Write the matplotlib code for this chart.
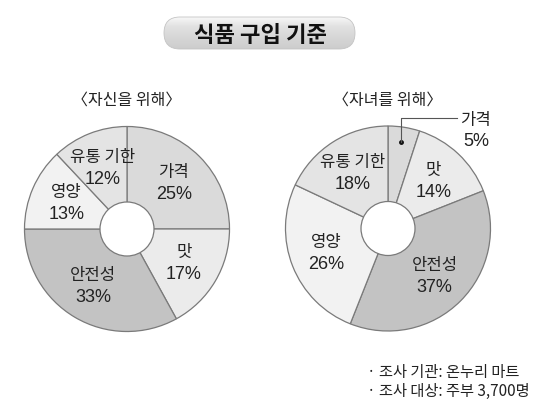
# 식품 구입 기준 - 도넛 차트 두 개
import numpy as np
import matplotlib
matplotlib.use("Agg")
import matplotlib.pyplot as plt
from matplotlib.patches import FancyBboxPatch, Circle

plt.rcParams['font.family'] = ['Noto Sans CJK KR', 'DejaVu Sans']
num_font = ['Liberation Sans', 'Noto Sans CJK KR']

# 데이터
categories = ["가격", "맛", "안전성", "영양", "유통 기한"]
self_values = [25, 17, 33, 13, 12]
child_values = [5, 14, 37, 26, 18]
colors = ["#dadada", "#ebebeb", "#c3c3c3", "#f2f2f2", "#e4e4e4"]

W, H = 553, 414
fig = plt.figure(figsize=(W / 100, H / 100), dpi=100)
ax = fig.add_axes([0, 0, 1, 1])


def y(py):
    # 픽셀 좌표(위에서 아래) -> 축 좌표
    return H - py


def donut(cx, cy, values, skip_first=False):
    R = 102.5
    wedges, _ = ax.pie(values, colors=colors, startangle=90, counterclock=False,
                       center=(cx, y(cy)), radius=R,
                       wedgeprops=dict(edgecolor="#7a7a7a", linewidth=0.9))
    ax.add_patch(Circle((cx, y(cy)), 27, facecolor="white",
                        edgecolor="#7a7a7a", linewidth=0.9, zorder=3))
    for i, w in enumerate(wedges):
        if skip_first and i == 0:
            continue
        mid = np.deg2rad((w.theta1 + w.theta2) / 2)
        r = 66
        tx = cx + r * np.cos(mid)
        ty = y(cy) + r * np.sin(mid)
        ax.text(tx, ty + 11, categories[i], ha="center", va="center",
                fontsize=12, color="#222222")
        ax.text(tx, ty - 11, f"{values[i]}%", ha="center", va="center",
                fontsize=13, color="#222222", family=num_font)
    return wedges


donut(127, 230, self_values)
donut(388, 229.5, child_values, skip_first=True)

# 자녀를 위해 - 가격 라벨 (지시선)
ax.plot([401], [y(143)], "o", color="#111111", markersize=2.5, zorder=4)
ax.plot([401, 401, 457], [y(143), y(119), y(119)], color="#555555",
        linewidth=0.8, zorder=4)
ax.text(475, y(120), categories[0], ha="center", va="center", fontsize=12,
        color="#222222")
ax.text(476, y(141), f"{child_values[0]}%", ha="center", va="center",
        fontsize=13, color="#222222", family=num_font)

# 소제목
ax.text(127, y(100), "〈자신을 위해〉", ha="center", va="center", fontsize=11.5,
        color="#222222")
ax.text(388, y(100), "〈자녀를 위해〉", ha="center", va="center", fontsize=11.5,
        color="#222222")

# 제목 (둥근 회색 상자)
pill = FancyBboxPatch((164, y(50)), 191, 32,
                      boxstyle="round,pad=0,rounding_size=16",
                      facecolor="none", edgecolor="#c4c4c4", linewidth=0.6,
                      zorder=2)
ax.add_patch(pill)
grad = np.concatenate([np.linspace(0.97, 0.88, 20), np.linspace(0.88, 0.80, 44)])
im = ax.imshow(grad.reshape(-1, 1), cmap="gray", vmin=0, vmax=1, aspect="auto",
               extent=(164, 355, y(50), y(18)), zorder=1)
im.set_clip_path(pill)
ax.text(260, y(35), "식품 구입 기준", ha="center", va="center", fontsize=16,
        fontweight="bold", color="#111111", zorder=3)

# 조사 정보
ax.text(367, y(373), "· 조사 기관: 온누리 마트", ha="left", va="center",
        fontsize=11, color="#222222")
ax.text(367, y(391), "· 조사 대상: 주부 3,700명", ha="left", va="center",
        fontsize=11, color="#222222")

ax.set_xlim(0, W)
ax.set_ylim(0, H)
ax.set_aspect("equal")
ax.axis("off")

fig.savefig("out.png", dpi=100)
